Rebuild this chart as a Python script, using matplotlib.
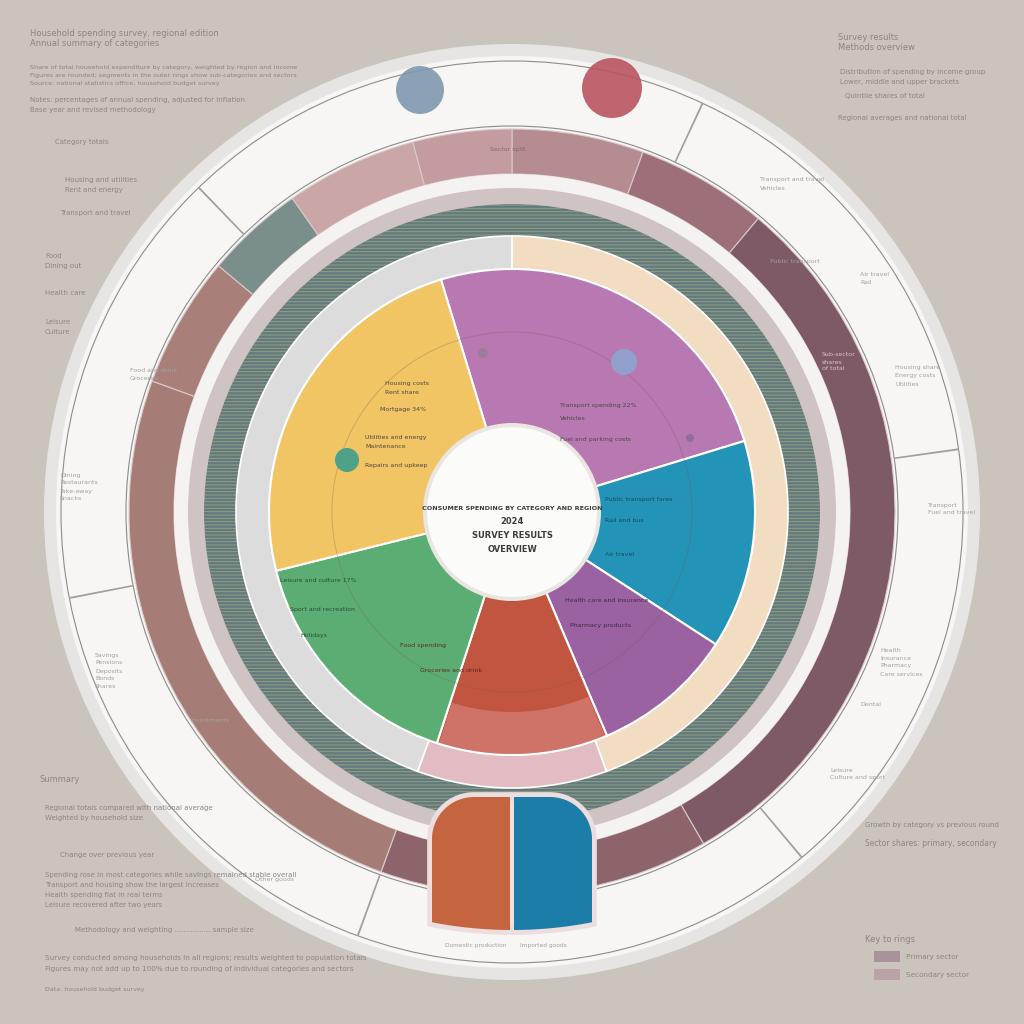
import numpy as np
import matplotlib
matplotlib.use("Agg")
import matplotlib.pyplot as plt
from matplotlib.patches import Circle, Wedge, Rectangle, PathPatch
from matplotlib.path import Path

# --- data -----------------------------------------------------------------
# inner donut: shares in degrees, clockwise from the yellow/pink edge
pie_labels = ["Housing", "Transport", "Health", "Food", "Leisure", "Savings"]
pie_values = [90, 50, 34, 41, 58, 87]
pie_colors = ["#b878b2", "#2393b8", "#9a62a1", "#c2553f", "#5cad73", "#f1c564"]

# first ring (cream / pink / grey), clockwise from top
ring_a_values = [160, 40, 160]
ring_a_colors = ["#f2ddc3", "#e2bcc2", "#dcdcdc"]

# mauve ring segments, clockwise from top
ring_e_values = [20, 20, 110, 50, 90, 20, 15, 20, 15]
ring_e_colors = ["#b58c90", "#9d6f78", "#7e5966", "#8c6469", "#a67c77",
                 "#a98079", "#7a8f8c", "#caa6a7", "#c49ca0"]

# bottom two-part gauge
gauge_labels = ["Domestic", "Imported"]
gauge_colors = ["#c4653f", "#1c7da9"]

# small bullet markers on the inner guide circle: (x, y, r, colour)
bullets = [(347, 460, 12, "#3d9d8c"), (624, 362, 13, "#8ea4cf"),
           (483, 353, 5, "#9b7b9c"), (690, 438, 4, "#8c6d96")]

center_lines = ["CONSUMER SPENDING BY CATEGORY AND REGION", "2024",
                "SURVEY RESULTS", "OVERVIEW"]

legend_title = "Key to rings"
legend_items = ["Primary sector", "Secondary sector"]
legend_colors = ["#a9939b", "#baa3a7"]

BG = "#cbc4bc"
BAND = "#f7f6f4"
CX, CY = 512, 512


def Y(y):
    return 1024 - y


fig = plt.figure(figsize=(10.24, 10.24), dpi=100, facecolor=BG)
ax = fig.add_axes([0, 0, 1, 1])
ax.set_facecolor(BG)
plt.rcParams["hatch.linewidth"] = 0.7

# outer grey border and white text band
ax.add_patch(Circle((CX, CY), 468, fc="#e7e5e3", ec="none", zorder=1))
ax.add_patch(Circle((CX, CY), 456, fc=BAND, ec="none", zorder=1))
for r in (451, 386):
    ax.add_patch(Circle((CX, CY), r, fc="none", ec="#8e8c8a", lw=0.8, zorder=2))

# radial dividers in the text band
for th in (25, 82, 140, 200, 259, 316):
    ax.add_patch(Wedge((CX, CY), 451, 90 - th - 0.12, 90 - th + 0.12, width=65,
                       fc="#a19f9c", ec="none", zorder=2))

# mauve ring
ax.pie(ring_e_values, colors=ring_e_colors, radius=383, center=(CX, CY),
       startangle=90, counterclock=False,
       wedgeprops=dict(width=45, edgecolor="#d9c9c9", linewidth=0.8, zorder=3))
# white + grey-mauve thin rings
ax.add_patch(Wedge((CX, CY), 338, 0, 360, width=14, fc="#f5f3f1", ec="none", zorder=3))
ax.add_patch(Wedge((CX, CY), 324, 0, 360, width=16, fc="#cfc3c3", ec="none", zorder=3))

# teal textured ring
ax.pie([1], colors=["#617a7e"], radius=308, center=(CX, CY), startangle=90,
       wedgeprops=dict(width=32, linewidth=0, zorder=3))
ax.pie([1], colors=["none"], radius=308, center=(CX, CY), startangle=90,
       wedgeprops=dict(width=32, hatch="-----", edgecolor=(0.78, 0.74, 0.52, 0.55),
                       linewidth=0, zorder=3))

# cream / grey ring
ax.pie(ring_a_values, colors=ring_a_colors, radius=276, center=(CX, CY),
       startangle=90, counterclock=False,
       wedgeprops=dict(width=33, edgecolor="white", linewidth=1.2, zorder=4))

# inner donut
ax.pie(pie_values, colors=pie_colors, radius=243, center=(CX, CY),
       startangle=107, counterclock=False,
       wedgeprops=dict(width=156, edgecolor="white", linewidth=1.5, zorder=5))
# soft pink overlay on the rim of the bottom slice
ax.add_patch(Wedge((CX, CY), 242, -107.5, -67.5, width=42, fc="#f0b8c8", ec="none",
                   alpha=0.3, zorder=6))
ax.add_patch(Circle((CX, CY), 180, fc="none", ec="#7a5a50", lw=0.7, alpha=0.3, zorder=6))
for bx, by, br, bc in bullets:
    ax.add_patch(Circle((bx, Y(by)), br, fc=bc, ec="none", alpha=0.9, zorder=7))

# centre hole
ax.add_patch(Circle((CX, CY), 89, fc="#e9e6e2", ec="none", zorder=7))
ax.add_patch(Circle((CX, CY), 85, fc="#fbfbfa", ec="none", zorder=7))
for i, (t, fs) in enumerate(zip(center_lines, (4.6, 6, 6, 6))):
    ax.text(CX, Y(508 + i * 14), t, ha="center", va="center", fontsize=fs,
            fontweight="bold", color="#3c3c3c", zorder=8)

# bottom gauge: rounded top, bottom cut along the text band
x0, x1, ytop, rc, rb = 432, 592, Y(797), 42, 418
t = np.linspace(0, np.pi / 2, 20)
ybl = CY - np.sqrt(rb ** 2 - (x0 - CX) ** 2)
ybr = CY - np.sqrt(rb ** 2 - (x1 - CX) ** 2)
left_arc = np.c_[x0 + rc - rc * np.cos(t), ytop - rc + rc * np.sin(t)]
right_arc = np.c_[x1 - rc + rc * np.sin(t), ytop - rc + rc * np.cos(t)]
xs = np.linspace(x1, x0, 40)
bottom = np.c_[xs, CY - np.sqrt(rb ** 2 - (xs - CX) ** 2)]
verts = np.vstack([[[x0, ybl]], left_arc, right_arc, [[x1, ybr]], bottom])
gpath = Path(np.vstack([verts, verts[:1]]), closed=True)
outline = PathPatch(gpath, fc="#efe2e2", ec="#ecdede", lw=7, zorder=8)
ax.add_patch(outline)
for i, c in enumerate(gauge_colors):
    rct = Rectangle((x0 + i * 82, Y(960)), 78, 200, fc=c, ec="none", zorder=9)
    ax.add_patch(rct)
    rct.set_clip_path(outline)

# top circles
ax.add_patch(Circle((420, Y(90)), 24, fc="#7f98ae", ec="none", alpha=0.9, zorder=8))
ax.add_patch(Circle((612, Y(88)), 30, fc="#ba5561", ec="none", alpha=0.9, zorder=8))


# --- text blocks ------------------------------------------------------------
def block(x, y, lines, fs=5.5, color="#8a847e", step=9, **kw):
    for i, s in enumerate(lines):
        ax.text(x, Y(y + i * step), s, fontsize=fs, color=color, va="center",
                zorder=11, **kw)


grey = "#8c867f"
block(30, 33, ["Household spending survey, regional edition", "Annual summary of categories"], 6, grey, 11)
block(30, 68, ["Share of total household expenditure by category, weighted by region and income",
               "Figures are rounded; segments in the outer rings show sub-categories and sectors",
               "Source: national statistics office, household budget survey"], 4.6, grey, 8)
block(30, 100, ["Notes: percentages of annual spending, adjusted for inflation",
                "Base year and revised methodology"], 5, grey, 10)
block(55, 142, ["Category totals"], 5, grey)
block(65, 180, ["Housing and utilities", "Rent and energy"], 5, grey, 10)
block(60, 213, ["Transport and travel"], 5, grey)
block(45, 256, ["Food", "Dining out"], 5, grey, 10)
block(45, 293, ["Health care"], 5, grey)
block(45, 322, ["Leisure", "Culture"], 5, grey, 10)
block(40, 780, ["Summary"], 6, grey)
block(45, 808, ["Regional totals compared with national average",
                "Weighted by household size"], 5, grey, 10)
block(60, 855, ["Change over previous year"], 5, grey)
block(45, 875, ["Spending rose in most categories while savings remained stable overall",
                "Transport and housing show the largest increases",
                "Health spending flat in real terms",
                "Leisure recovered after two years"], 5, grey, 10)
block(75, 930, ["Methodology and weighting ................ sample size"], 5, grey)
block(45, 958, ["Survey conducted among households in all regions; results weighted to population totals",
                "Figures may not add up to 100% due to rounding of individual categories and sectors"], 5.2, grey, 11)
block(45, 990, ["Data: household budget survey"], 4.5, grey)

block(838, 37, ["Survey results", "Methods overview"], 6, grey, 11)
block(840, 72, ["Distribution of spending by income group", "Lower, middle and upper brackets"], 5, grey, 10)
block(845, 96, ["Quintile shares of total"], 5, grey)
block(838, 118, ["Regional averages and national total"], 5, grey)
block(865, 825, ["Growth by category vs previous round"], 5, grey)
block(865, 843, ["Sector shares: primary, secondary"], 5.5, grey)

# legend
ax.text(865, Y(940), legend_title, fontsize=6, color=grey, va="center", zorder=11)
for i, (s, c) in enumerate(zip(legend_items, legend_colors)):
    ax.add_patch(Rectangle((874, Y(962 + i * 18)), 26, 11, fc=c, ec="none", zorder=11))
    ax.text(906, Y(957 + i * 18), s, fontsize=5.2, color=grey, va="center", zorder=11)

# text in the white band and rings
band = "#a3a09d"
block(895, 368, ["Housing share", "Energy costs", "Utilities"], 4.5, band, 8)
block(928, 505, ["Transport", "Fuel and travel"], 4.5, band, 8)
block(880, 650, ["Health", "Insurance", "Pharmacy", "Care services"], 4.5, band, 8)
block(860, 705, ["Dental"], 4.5, band)
block(830, 770, ["Leisure", "Culture and sport"], 4.5, band, 8)
block(760, 180, ["Transport and travel", "Vehicles"], 4.5, band, 8)
block(770, 262, ["Public transport"], 4.5, band)
block(860, 275, ["Air travel", "Rail"], 4.5, band, 8)
block(130, 370, ["Food and drink", "Groceries"], 4.5, band, 8)
block(60, 475, ["Dining", "Restaurants", "Take-away", "Snacks"], 4.5, band, 8)
block(95, 655, ["Savings", "Pensions", "Deposits", "Bonds", "Shares"], 4.5, band, 8)
block(190, 720, ["Investments"], 4.5, band)
block(255, 880, ["Other goods"], 4.5, band)
block(445, 945, ["Domestic production"], 4.2, band)
block(520, 945, ["Imported goods"], 4.2, band)
block(490, 150, ["Sector split"], 4.5, "#7d6a6c")
block(822, 355, ["Sub-sector", "shares", "of total"], 4.5, "#d7c6c9", 7)

# small labels inside the donut
dark = "#4d4646"
block(385, 383, ["Housing costs", "Rent share"], 4.5, dark, 9)
block(380, 410, ["Mortgage 34%"], 4.5, dark)
block(365, 437, ["Utilities and energy", "Maintenance"], 4.5, dark, 9)
block(365, 465, ["Repairs and upkeep"], 4.5, dark)
block(560, 405, ["Transport spending 22%"], 4.5, dark)
block(560, 418, ["Vehicles"], 4.5, dark)
block(560, 440, ["Fuel and parking costs"], 4.5, dark)
block(605, 500, ["Public transport fares"], 4.5, "#1b4a5c")
block(605, 520, ["Rail and bus"], 4.5, "#1b4a5c")
block(605, 555, ["Air travel"], 4.5, "#1b4a5c")
block(565, 600, ["Health care and insurance"], 4.5, "#3f2946")
block(570, 625, ["Pharmacy products"], 4.5, "#3f2946")
block(280, 580, ["Leisure and culture 17%"], 4.5, "#2b4d35")
block(290, 610, ["Sport and recreation"], 4.5, "#2b4d35")
block(300, 635, ["Holidays"], 4.5, "#2b4d35")
block(400, 645, ["Food spending"], 4.5, "#5a2a20")
block(420, 670, ["Groceries and drink"], 4.5, "#5a2a20")

ax.set_xlim(0, 1024)
ax.set_ylim(0, 1024)
ax.set_aspect("equal")
ax.axis("off")
fig.savefig("out.png", dpi=100, facecolor=BG)
